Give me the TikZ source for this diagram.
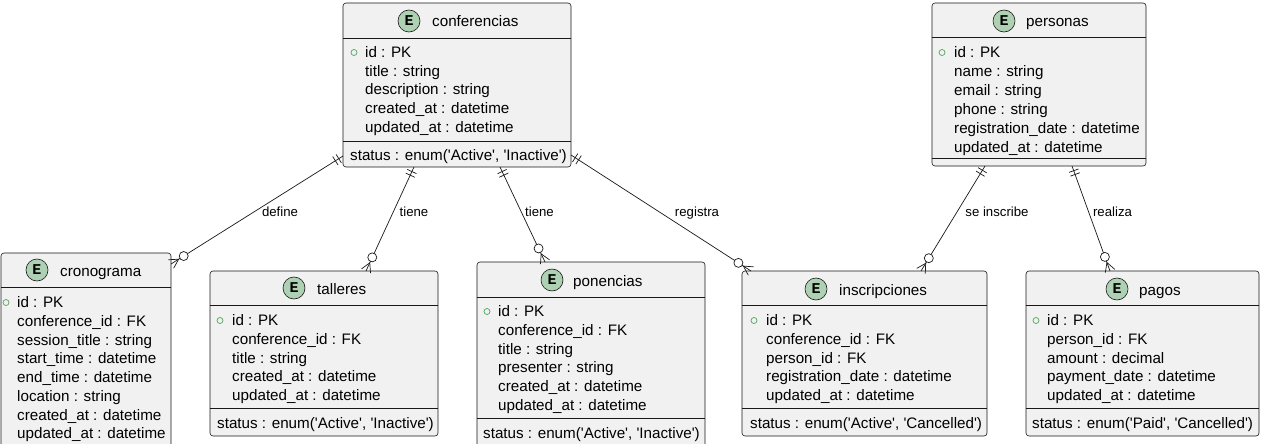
\documentclass[tikz,border=0pt]{standalone}
\usepackage{fontspec}
\setmainfont{Liberation Sans}
\newfontfamily\emono{Liberation Mono}
\usetikzlibrary{calc}
\definecolor{boxfill}{HTML}{F1F1F1}
\definecolor{boxline}{HTML}{181818}
\definecolor{ecirc}{HTML}{ADD1B2}
\definecolor{pkgreen}{HTML}{4FA562}
\newcommand\sq{\textquotesingle}
\tikzset{
 ebox/.style={rectangle, draw=boxline, fill=boxfill, line width=0.6pt, rounded corners=3pt, inner sep=0pt, outer sep=0pt, anchor=north west},
 sepl/.style={draw=boxline, line width=0.6pt},
 attr/.style={inner sep=0pt, anchor=base west, font=\fontsize{15.2}{18}\selectfont, text=black},
 lbl/.style={inner sep=0pt, anchor=base, font=\fontsize{13.2}{15}\selectfont, text=black},
 conn/.style={draw=boxline, line width=0.7pt},
 pkm/.style={draw=pkgreen, line width=0.7pt},
 eico/.style={circle, draw=boxline, fill=ecirc, line width=0.6pt, minimum size=22pt, inner sep=0pt, font=\emono\bfseries\fontsize{15}{15}\selectfont},
}
\newcommand\erlink[2]{%
 \draw[conn] (#1) -- (#2);
 \path ($(#1)!5pt!(#2)$) coordinate (q1) ($(#1)!9pt!(#2)$) coordinate (q2)
       ($(#2)!15pt!(#1)$) coordinate (qc) ($(#2)!9pt!(#1)$) coordinate (qv);
 \draw[conn] ($(q1)!5pt!90:(#2)$) -- ($(q1)!5pt!-90:(#2)$);
 \draw[conn] ($(q2)!5pt!90:(#2)$) -- ($(q2)!5pt!-90:(#2)$);
 \draw[conn] ($(#2)!5pt!90:(#1)$) -- (qv) -- ($(#2)!5pt!-90:(#1)$);
 \draw[conn, fill=white] (qc) circle (4.5pt);
}
\begin{document}
\begin{tikzpicture}[x=1pt,y=-1pt]
\useasboundingbox (0,0) rectangle (1280,444);
\clip (0,0) rectangle (1280,444);
\fill[white] (0,0) rectangle (1280,444);

% ---------- conferencias
\node[ebox, minimum width=228pt, minimum height=164pt] (conf) at (343,3) {};
\draw[sepl] (343,38) -- (571,38);
\draw[sepl] (343,141) -- (571,141);
\node[eico] (conf-e) at (409,21) {E};
\node[attr] (conf-t) at (432,27) {conferencias};
\draw[pkm] (354,52.5) circle (3pt);
\foreach \t [count=\i] in {id : PK, title : string, description : string, created\_at : datetime, updated\_at : datetime}
  \node[attr] (conf-\i) at (365,{57.5+18.75*(\i-1)}) {\t};
\node[attr] (conf-s) at (350,160.5) {status : enum(\sq Active\sq, \sq Inactive\sq)};

% ---------- personas
\node[ebox, minimum width=214pt, minimum height=163pt] (pers) at (932,3) {};
\draw[sepl] (932,37) -- (1146,37);
\draw[sepl] (932,158) -- (1146,158);
\node[eico] (pers-e) at (1004,21) {E};
\node[attr] (pers-t) at (1026,27) {personas};
\draw[pkm] (942,52.5) circle (3pt);
\foreach \t [count=\i] in {id : PK, name : string, email : string, phone : string, registration\_date : datetime, updated\_at : datetime}
  \node[attr] (pers-\i) at (954,{57.5+18.9*(\i-1)}) {\t};

% ---------- cronograma
\node[ebox, minimum width=170pt, minimum height=220pt] (cron) at (1,253) {};
\draw[sepl] (1,287) -- (171,287);
\node[eico] (cron-e) at (37,270) {E};
\node[attr] (cron-t) at (60,276) {cronograma};
\draw[pkm] (6,302.5) circle (3pt);
\foreach \t [count=\i] in {id : PK, conference\_id : FK, session\_title : string, start\_time : datetime, end\_time : datetime, location : string, created\_at : datetime, updated\_at : datetime}
  \node[attr] (cron-\i) at (17,{307.5+18.75*(\i-1)}) {\t};

% ---------- talleres
\node[ebox, minimum width=228pt, minimum height=165pt] (tall) at (210,271) {};
\draw[sepl] (210,305) -- (438,305);
\draw[sepl] (210,408) -- (438,408);
\node[eico] (tall-e) at (294,288) {E};
\node[attr] (tall-t) at (317,294) {talleres};
\draw[pkm] (220,320.5) circle (3pt);
\foreach \t [count=\i] in {id : PK, conference\_id : FK, title : string, created\_at : datetime, updated\_at : datetime}
  \node[attr] (tall-\i) at (232,{325.5+18.75*(\i-1)}) {\t};
\node[attr] (tall-s) at (217,428.5) {status : enum(\sq Active\sq, \sq Inactive\sq)};

% ---------- ponencias
\node[ebox, minimum width=228pt, minimum height=190pt] (pon) at (477,262) {};
\draw[sepl] (477,297) -- (705,297);
\draw[sepl] (477,418) -- (705,418);
\node[eico] (pon-e) at (552,280) {E};
\node[attr] (pon-t) at (573,286) {ponencias};
\draw[pkm] (487,311.5) circle (3pt);
\foreach \t [count=\i] in {id : PK, conference\_id : FK, title : string, presenter : string, created\_at : datetime, updated\_at : datetime}
  \node[attr] (pon-\i) at (498,{316.5+18.75*(\i-1)}) {\t};
\node[attr] (pon-s) at (483,438.5) {status : enum(\sq Active\sq, \sq Inactive\sq)};

% ---------- inscripciones
\node[ebox, minimum width=245pt, minimum height=165pt] (insc) at (742,271) {};
\draw[sepl] (742,305) -- (987,305);
\draw[sepl] (742,408) -- (987,408);
\node[eico] (insc-e) at (816,289) {E};
\node[attr] (insc-t) at (839,295) {inscripciones};
\draw[pkm] (754,320.5) circle (3pt);
\foreach \t [count=\i] in {id : PK, conference\_id : FK, person\_id : FK, registration\_date : datetime, updated\_at : datetime}
  \node[attr] (insc-\i) at (766,{325.5+18.75*(\i-1)}) {\t};
\node[attr] (insc-s) at (750,428.5) {status : enum(\sq Active\sq, \sq Cancelled\sq)};

% ---------- pagos
\node[ebox, minimum width=233pt, minimum height=165pt] (pagos) at (1026,271) {};
\draw[sepl] (1026,305) -- (1259,305);
\draw[sepl] (1026,408) -- (1259,408);
\node[eico] (pagos-e) at (1117,289) {E};
\node[attr] (pagos-t) at (1139,295) {pagos};
\draw[pkm] (1036,320.5) circle (3pt);
\foreach \t [count=\i] in {id : PK, person\_id : FK, amount : decimal, payment\_date : datetime, updated\_at : datetime}
  \node[attr] (pagos-\i) at (1047,{325.5+18.75*(\i-1)}) {\t};
\node[attr] (pagos-s) at (1032,428.5) {status : enum(\sq Paid\sq, \sq Cancelled\sq)};

% ---------- connector end points
\coordinate (s-def) at ([yshift=-153pt]conf.north west);
\coordinate (t-def) at ([yshift=-11pt]cron.north east);
\coordinate (s-ti1) at ([xshift=71pt]conf.south west);
\coordinate (t-ti1) at ([xshift=156pt]tall.north west);
\coordinate (s-ti2) at ([xshift=157pt]conf.south west);
\coordinate (t-ti2) at ([xshift=68pt]pon.north west);
\coordinate (s-reg) at ([yshift=-152pt]conf.north east);
\coordinate (t-reg) at ([xshift=9pt]insc.north west);
\coordinate (s-ins) at ([xshift=53pt]pers.south west);
\coordinate (t-ins) at ([xshift=179pt]insc.north west);
\coordinate (s-rea) at ([xshift=140pt]pers.south west);
\coordinate (t-rea) at ([xshift=84pt]pagos.north west);

\erlink{s-def}{t-def}
\erlink{s-ti1}{t-ti1}
\erlink{s-ti2}{t-ti2}
\erlink{s-reg}{t-reg}
\erlink{s-ins}{t-ins}
\erlink{s-rea}{t-rea}

% ---------- labels
\node[lbl] (l-def) at (280,216) {define};
\node[lbl] (l-ti1) at (414,216) {tiene};
\node[lbl] (l-ti2) at (539.5,216) {tiene};
\node[lbl] (l-reg) at (697,216) {registra};
\node[lbl] (l-ins) at (997,216) {se inscribe};
\node[lbl] (l-rea) at (1112.5,216) {realiza};
\end{tikzpicture}
\end{document}
